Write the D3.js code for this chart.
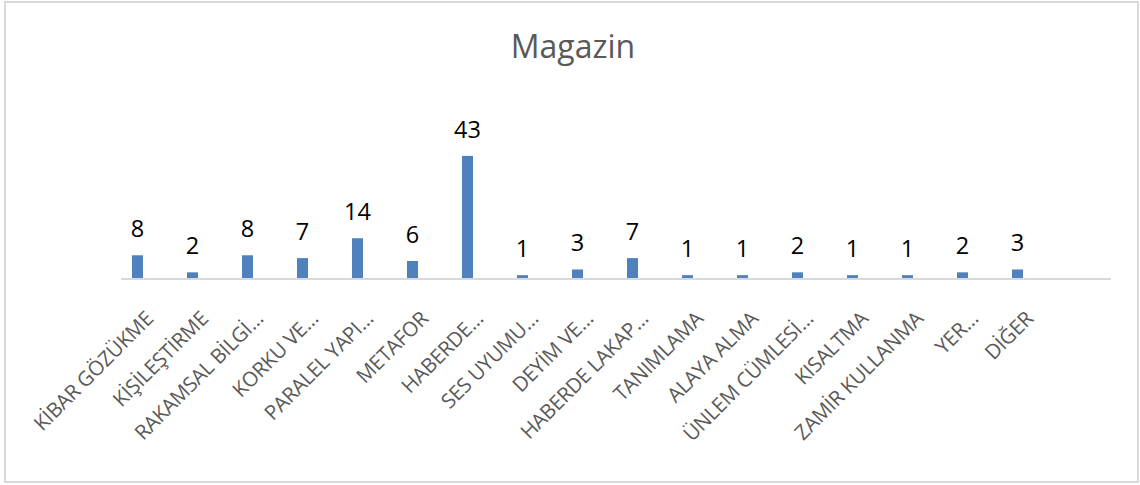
<!DOCTYPE html>
<html>
<head>
<meta charset="utf-8">
<script src="https://cdn.jsdelivr.net/npm/d3@7"></script>
<style>
  html, body { margin: 0; padding: 0; background: #fff; }
  svg { display: block; }
</style>
</head>
<body>
<div id="chart"></div>
<script>
"use strict";

/* Data */
const TITLE = "Magazin";
const CATEGORIES = [
  "KİBAR GÖZÜKME", "KİŞİLEŞTİRME", "RAKAMSAL BİLGİ…", "KORKU VE…",
  "PARALEL YAPI…", "METAFOR", "HABERDE…", "SES UYUMU…", "DEYİM VE…",
  "HABERDE LAKAP…", "TANIMLAMA", "ALAYA ALMA", "ÜNLEM CÜMLESİ…",
  "KISALTMA", "ZAMİR KULLANMA", "YER…", "DİĞER"
];
const VALUES = [8, 2, 8, 7, 14, 6, 43, 1, 3, 7, 1, 1, 2, 1, 1, 2, 3];
const Y_MAX = 50;

const W = 1140, H = 485;
const plot = { left: 121, right: 1056, base: 278, top: 136 };

const svg = d3.select("#chart").append("svg")
  .attr("width", W).attr("height", H);

/* Chart frame */
svg.append("rect")
  .attr("x", 5).attr("y", 2)
  .attr("width", 1133).attr("height", 480)
  .attr("fill", "#fff")
  .attr("stroke", "#d9d9d9")
  .attr("stroke-width", 2);

svg.append("text")
  .attr("x", 573).attr("y", 58)
  .attr("text-anchor", "middle")
  .attr("font-family", "Open Sans, sans-serif")
  .attr("font-size", 32)
  .attr("fill", "#595959")
  .text(TITLE);

const x = d3.scaleBand()
  .domain(CATEGORIES)
  .range([plot.left, plot.right])
  .paddingInner(0).paddingOuter(0);

const y = d3.scaleLinear()
  .domain([0, Y_MAX])
  .range([plot.base, plot.top]);

const step = x.step();
const barW = step * 0.2;

/* Bars */
svg.append("g").selectAll("rect")
  .data(CATEGORIES)
  .join("rect")
  .attr("x", function (d) { return x(d) + step * 0.2; })
  .attr("y", function (d, i) { return y(VALUES[i]); })
  .attr("width", barW)
  .attr("height", function (d, i) { return y(0) - y(VALUES[i]); })
  .attr("fill", "#4f81bd");

/* Category axis line (runs one extra empty band, as in the source) */
svg.append("line")
  .attr("x1", plot.left).attr("x2", plot.right + step)
  .attr("y1", y(0) + 1).attr("y2", y(0) + 1)
  .attr("stroke", "#d9d9d9")
  .attr("stroke-width", 2);

/* Value labels */
svg.append("g").selectAll("text")
  .data(CATEGORIES)
  .join("text")
  .attr("x", function (d) { return x(d) + step * 0.2 + barW / 2; })
  .attr("y", function (d, i) { return y(VALUES[i]) - 18; })
  .attr("text-anchor", "middle")
  .attr("font-family", "Open Sans, sans-serif")
  .attr("font-size", 23.5)
  .attr("fill", "#000")
  .text(function (d, i) { return VALUES[i]; });

/* Rotated category labels */
svg.append("g").selectAll("text")
  .data(CATEGORIES)
  .join("text")
  .attr("transform", function (d) {
    return "translate(" + (x(d) + x.bandwidth() / 2 + 6) + ",320) rotate(-45)";
  })
  .attr("text-anchor", "end")
  .attr("font-family", "Open Sans, sans-serif")
  .attr("font-size", 20.5)
  .attr("letter-spacing", -0.3)
  .attr("fill", "#595959")
  .text(function (d) { return d; });
</script>
</body>
</html>
